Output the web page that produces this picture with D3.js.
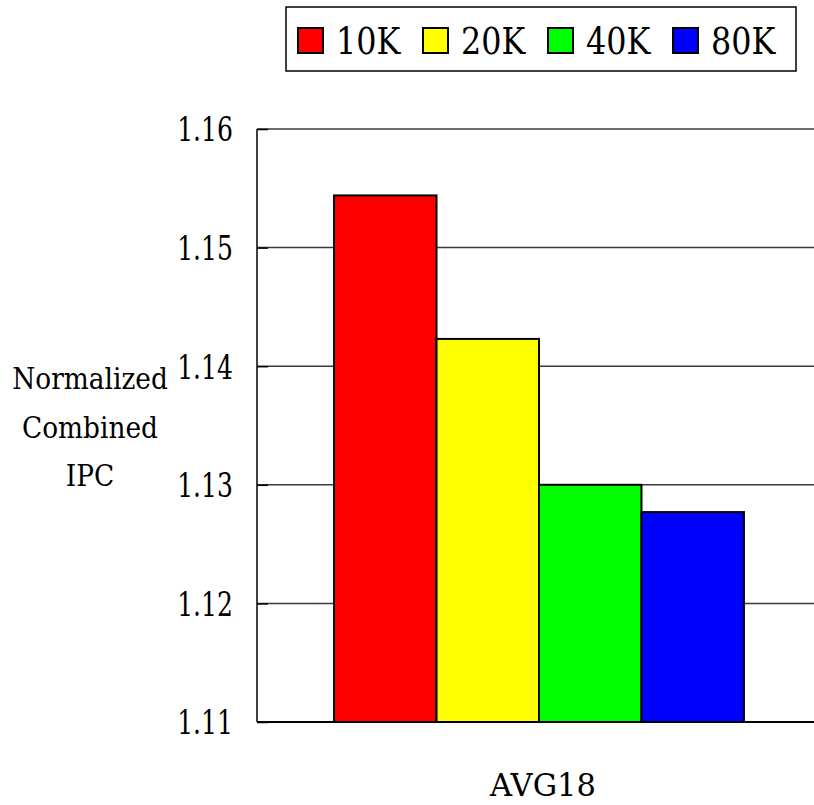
<!DOCTYPE html>
<html>
<head>
<meta charset="utf-8">
<script src="https://cdn.jsdelivr.net/npm/d3@7"></script>
<style>
  html, body { margin: 0; padding: 0; background: #fff; }
  svg { display: block; }
</style>
</head>
<body>
<svg id="chart" width="814" height="805"></svg>
<script>
// Benchmark group on the x axis
const categories = ["AVG18"];
// Window sizes (series)
const seriesNames = ["10K", "20K", "40K", "80K"];
const seriesColors = ["#ff0000", "#ffff00", "#00ff00", "#0000ff"];
// Normalized combined IPC per series for AVG18
const values10K = [1.1544];
const values20K = [1.1423];
const values40K = [1.1300];
const values80K = [1.1277];
// Y axis ticks
const yTicks = [1.11, 1.12, 1.13, 1.14, 1.15, 1.16];
const yTitleLines = ["Normalized", "Combined", "IPC"];

const seriesValues = [values10K, values20K, values40K, values80K];
const SERIF = "DejaVu Serif";

// Narrow the serif glyphs horizontally to a Times-like width
function condense(sel, k) {
  sel.each(function () {
    const w = this.getComputedTextLength();
    d3.select(this).attr("textLength", w * k).attr("lengthAdjust", "spacingAndGlyphs");
  });
}

const svg = d3.select("#chart");
const plot = { left: 257, right: 821, top: 129, bottom: 722 };

const y = d3.scaleLinear().domain([1.11, 1.16]).range([plot.bottom, plot.top]);
const x0 = d3.scaleBand().domain(categories)
  .range([plot.left, plot.right]).paddingInner(0).paddingOuter(0.188);
const x1 = d3.scaleBand().domain(seriesNames).range([0, x0.bandwidth()]).padding(0);
const color = d3.scaleOrdinal().domain(seriesNames).range(seriesColors);

// Horizontal gridlines
svg.append("g").selectAll("line")
  .data(yTicks.filter(t => t > 1.11))
  .join("line")
  .attr("x1", plot.left).attr("x2", plot.right)
  .attr("y1", d => y(d)).attr("y2", d => y(d))
  .attr("stroke", "#3a3a3a").attr("stroke-width", 1.5);

// Left axis with inward ticks
const yAxis = d3.axisLeft(y).tickValues(yTicks).tickFormat(d3.format(".2f"))
  .tickSize(-11).tickPadding(24);
const gy = svg.append("g").attr("transform", `translate(${plot.left},0)`).call(yAxis);
gy.attr("font-family", SERIF).attr("font-size", 33);
gy.select(".domain").remove();
gy.selectAll(".tick line").attr("stroke", "#000").attr("stroke-width", 1.5);
gy.selectAll(".tick text").attr("fill", "#000").attr("dy", "0.36em").call(condense, 0.76);

// Bars
const groups = svg.append("g").selectAll("g")
  .data(categories)
  .join("g")
  .attr("transform", d => `translate(${x0(d)},0)`);

groups.selectAll("rect")
  .data((c, ci) => seriesNames.map((s, si) => ({ s, v: seriesValues[si][ci] })))
  .join("rect")
  .attr("x", d => x1(d.s))
  .attr("width", x1.bandwidth())
  .attr("y", d => y(d.v))
  .attr("height", d => y(1.11) - y(d.v))
  .attr("fill", d => color(d.s))
  .attr("stroke", "#000").attr("stroke-width", 2);

// Axis lines
svg.append("line")
  .attr("x1", plot.left).attr("x2", plot.left)
  .attr("y1", y(1.16)).attr("y2", y(1.11))
  .attr("stroke", "#000").attr("stroke-width", 1.5);
svg.append("line")
  .attr("x1", plot.left).attr("x2", plot.right)
  .attr("y1", y(1.11)).attr("y2", y(1.11))
  .attr("stroke", "#000").attr("stroke-width", 2);

// X category label
svg.append("g").selectAll("text")
  .data(categories)
  .join("text")
  .attr("x", d => x0(d) + x0.bandwidth() / 2 + 4)
  .attr("y", 796)
  .attr("text-anchor", "middle")
  .attr("font-family", SERIF).attr("font-size", 31.5)
  .text(d => d)
  .call(condense, 0.97);

// Y axis title
svg.append("g").selectAll("text")
  .data(yTitleLines)
  .join("text")
  .attr("text-anchor", "middle")
  .attr("font-family", SERIF).attr("font-size", 30)
  .attr("x", 90)
  .attr("y", (d, i) => 389 + i * 48.5)
  .text(d => d)
  .call(condense, 0.88);

// Legend
const legend = svg.append("g");
legend.append("rect")
  .attr("x", 286).attr("y", 7).attr("width", 510).attr("height", 64)
  .attr("fill", "#fff").attr("stroke", "#000").attr("stroke-width", 1.5);
const items = legend.selectAll("g.item")
  .data(seriesNames)
  .join("g").attr("class", "item")
  .attr("transform", (d, i) => `translate(${298 + i * 125},0)`);
items.append("rect")
  .attr("x", 0).attr("y", 28).attr("width", 25).attr("height", 25)
  .attr("fill", d => color(d)).attr("stroke", "#000").attr("stroke-width", 2);
items.append("text")
  .attr("x", 38).attr("y", 54)
  .attr("font-family", SERIF).attr("font-size", 37)
  .text(d => d)
  .call(condense, 0.86);
</script>
</body>
</html>
